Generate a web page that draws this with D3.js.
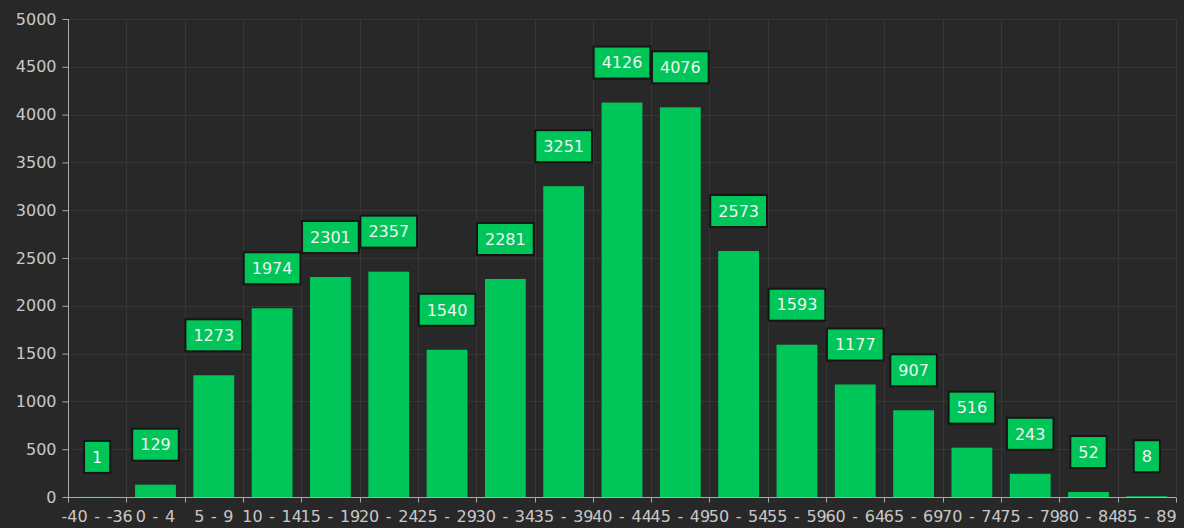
<!DOCTYPE html>
<html>
<head>
<meta charset="utf-8">
<script src="https://cdn.jsdelivr.net/npm/d3@7"></script>
<style>
  html, body { margin: 0; padding: 0; background: #282828; }
  svg { display: block; }
</style>
</head>
<body>
<svg id="chart" width="1184" height="528"></svg>
<script>
// age groups on the x axis
var categories = ["-40 - -36", "0 - 4", "5 - 9", "10 - 14", "15 - 19", "20 - 24", "25 - 29",
    "30 - 34", "35 - 39", "40 - 44", "45 - 49", "50 - 54", "55 - 59", "60 - 64",
    "65 - 69", "70 - 74", "75 - 79", "80 - 84", "85 - 89"];

var counts = [1, 129, 1273, 1974, 2301, 2357, 1540, 2281, 3251, 4126, 4076,
    2573, 1593, 1177, 907, 516, 243, 52, 8];

var yTicks = [0, 500, 1000, 1500, 2000, 2500, 3000, 3500, 4000, 4500, 5000];

var svg = d3.select("#chart"),
    margin = {top: 19, right: 8, bottom: 31, left: 68},
    width = +svg.attr("width"),
    height = +svg.attr("height");

var fontFamily = "'DejaVu Sans', Verdana, sans-serif";
var barColor = "#00c65a";

var x = d3.scaleBand()
    .domain(categories)
    .range([margin.left, width - margin.right])
    .paddingInner(0.3)
    .paddingOuter(0.15);

var y = d3.scaleLinear()
    .domain([0, 5000])
    .range([height - margin.bottom, margin.top]);

var step = x.step();
var edge = function(d) { return x(d) - step * 0.15; };
var boundaries = categories.map(edge).concat([width - margin.right]);

// grid
var grid = svg.append("g").attr("stroke", "#363636").attr("stroke-width", 1);
grid.selectAll("line.h")
    .data(yTicks.slice(1))
    .enter().append("line")
    .attr("x1", margin.left).attr("x2", width - margin.right)
    .attr("y1", function(d) { return Math.round(y(d)) + 0.5; })
    .attr("y2", function(d) { return Math.round(y(d)) + 0.5; });
grid.selectAll("line.v")
    .data(boundaries.slice(1))
    .enter().append("line")
    .attr("y1", margin.top).attr("y2", height - margin.bottom)
    .attr("x1", function(d) { return Math.round(d) + 0.5; })
    .attr("x2", function(d) { return Math.round(d) + 0.5; });

// bars
svg.append("g")
    .selectAll("rect")
    .data(counts)
    .enter().append("rect")
    .attr("x", function(d, i) { return x(categories[i]); })
    .attr("y", function(d) { return y(d); })
    .attr("width", x.bandwidth())
    .attr("height", function(d) { return y(0) - y(d); })
    .attr("fill", barColor);

// y axis
var yAxis = svg.append("g")
    .attr("transform", "translate(" + (margin.left + 0.5) + ",0)")
    .call(d3.axisLeft(y).tickValues(yTicks).tickFormat(d3.format("d"))
        .tickSize(6).tickSizeOuter(0).tickPadding(6));

// x axis with ticks on the band boundaries
var xAxis = svg.append("g")
    .attr("transform", "translate(0," + (y(0) + 0.5) + ")");
xAxis.append("line")
    .attr("x1", margin.left).attr("x2", width - margin.right)
    .attr("stroke", "#aaa");
xAxis.selectAll("line.tick")
    .data(boundaries)
    .enter().append("line")
    .attr("x1", function(d) { return Math.round(d) + 0.5; })
    .attr("x2", function(d) { return Math.round(d) + 0.5; })
    .attr("y1", 0).attr("y2", 5)
    .attr("stroke", "#aaa");
xAxis.selectAll("text")
    .data(categories)
    .enter().append("text")
    .attr("x", function(d) { return x(d) + x.bandwidth() / 2; })
    .attr("y", 24)
    .attr("text-anchor", "middle")
    .attr("fill", "#c8c8c8")
    .attr("font-family", fontFamily)
    .attr("font-size", 16)
    .attr("word-spacing", "1.5px")
    .text(function(d) { return d; });

yAxis.selectAll("path, line").attr("stroke", "#aaa");
yAxis.selectAll("text")
    .attr("fill", "#c8c8c8")
    .attr("font-family", fontFamily)
    .attr("font-size", 16);
yAxis.select(".domain").attr("d", "M0," + y(5000) + "V" + y(0));

// value labels in boxes above the bars
var labels = svg.append("g")
    .selectAll("g")
    .data(counts)
    .enter().append("g")
    .attr("transform", function(d, i) {
        return "translate(" + (x(categories[i]) + x.bandwidth() / 2) + "," + (y(d) - 40) + ")";
    });

labels.append("text")
    .attr("text-anchor", "middle")
    .attr("dy", "0.36em")
    .attr("fill", "#f2f2f2")
    .attr("font-family", fontFamily)
    .attr("font-size", 16)
    .text(function(d) { return d; })
    .each(function() {
        var bb = this.getBBox();
        d3.select(this.parentNode).insert("rect", "text")
            .attr("x", -bb.width / 2 - 8)
            .attr("y", -16)
            .attr("width", bb.width + 16)
            .attr("height", 32)
            .attr("fill", barColor)
            .attr("stroke", "#151515")
            .attr("stroke-width", 2);
    });
</script>
</body>
</html>
